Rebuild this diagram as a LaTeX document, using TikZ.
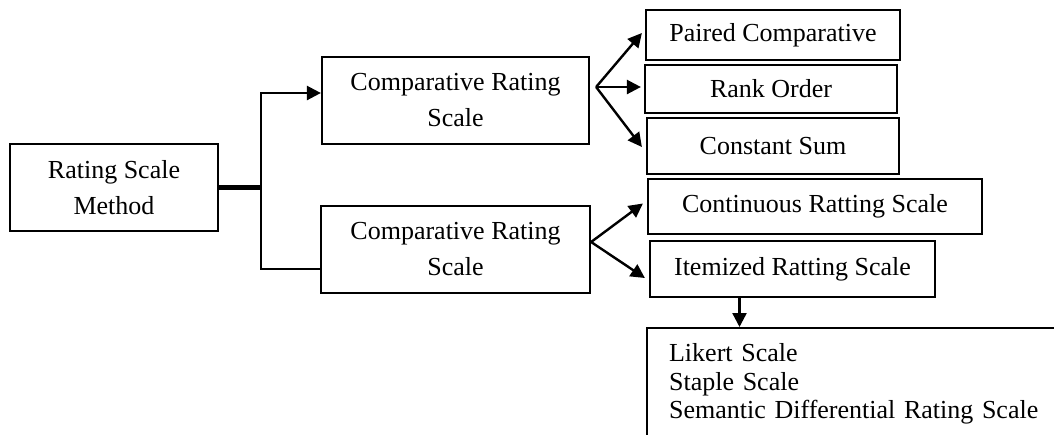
\documentclass[tikz,border=0pt]{standalone}
\usepackage{fontspec}
\setmainfont{Liberation Serif}
\usetikzlibrary{arrows.meta,calc}
\begin{document}
\begin{tikzpicture}[x=0.5pt,y=-0.5pt,
  box/.style={draw,line width=1.1pt,rectangle,inner sep=0pt,align=center,font=\fontsize{13}{18}\selectfont},
  arr/.style={line width=1.2pt,-{Triangle[length=7pt,width=7pt]}},
  conn/.style={line width=1.2pt},
  thickconn/.style={line width=2.2pt}]
\useasboundingbox (0,0) rectangle (1054,434);
\clip (0,0) rectangle (1054,434);
% nodes
\node[box,minimum width=104pt,minimum height=43.5pt] (root) at (114,187.5) {Rating Scale\\Method};
\node[box,minimum width=133.5pt,minimum height=43.5pt] (b1) at (455.5,100.5) {Comparative Rating\\Scale};
\node[box,minimum width=134.5pt,minimum height=43.5pt] (b2) at (455.5,249.5) {Comparative Rating\\Scale};
\node[box,minimum width=127pt,minimum height=25pt] (pc) at (773,35) {Paired Comparative};
\node[box,minimum width=126pt,minimum height=24pt] (ro) at (771,89) {Rank Order};
\node[box,minimum width=126pt,minimum height=28pt] (cs) at (773,146) {Constant Sum};
\node[box,minimum width=167pt,minimum height=27.5pt] (ct) at (815,206.5) {Continuous Ratting Scale};
\node[box,minimum width=142.5pt,minimum height=28pt] (it) at (792.5,269) {Itemized Ratting Scale};
\node[draw,line width=1.1pt,anchor=north west,text width=190pt,inner xsep=11pt,inner ysep=0pt,minimum height=56pt,align=left,font=\fontsize{13}{14.2}\selectfont] (ls) at (646,327) {Likert Scale\\Staple Scale\\Semantic Differential Rating Scale};
% connectors
\coordinate (j) at (261,187.5);
\draw[thickconn] (root.east) -- (j);
\draw[arr] (j) |- ($(b1.west)+(0,-7.5)$);
\draw[conn] (j) |- ($(b2.west)+(0,19.5)$);
\coordinate (f1) at ($(b1.east)+(6,-13.5)$);
\draw[arr] (f1) -- ($(pc.west)+(-3,-2)$);
\draw[arr] (f1) -- ($(ro.west)+(-3,-2)$);
\draw[arr] (f1) -- ($(cs.west)+(-4,1)$);
\coordinate (f2) at ($(b2.east)+(0,-7.5)$);
\draw[arr] (f2) -- ($(ct.west)+(-4,-3)$);
\draw[arr] (f2) -- ($(it.west)+(-4,9)$);
\coordinate (d1) at ($(it.south)+(-53,0)$);
\draw[arr] (d1) -- (d1 |- ls.north);
\end{tikzpicture}
\end{document}
